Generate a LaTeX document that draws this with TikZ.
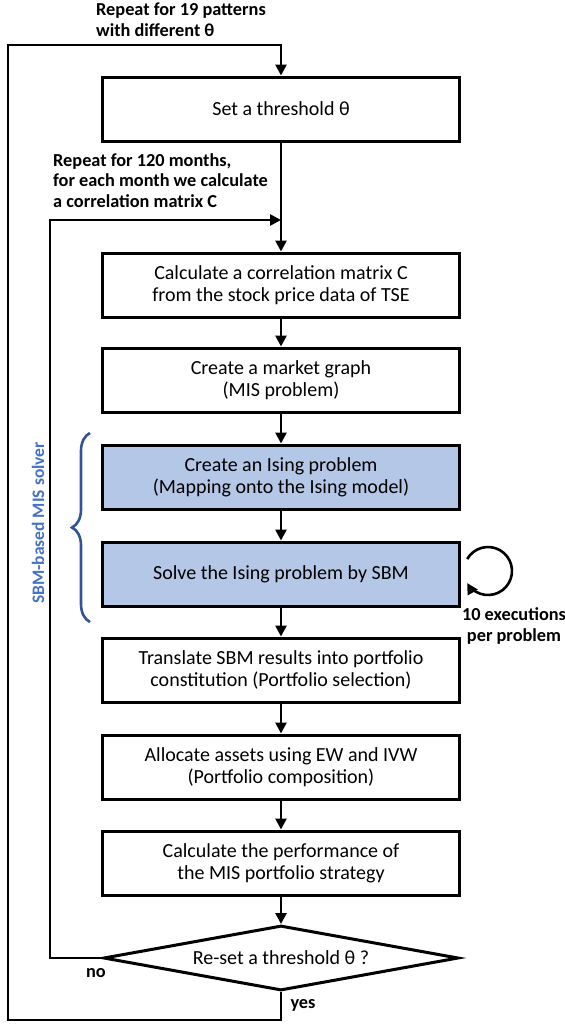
\documentclass[tikz,border=0pt]{standalone}
\usepackage{fontspec}
\setmainfont{Carlito}
\usepackage{tikz}
\usetikzlibrary{arrows.meta,shapes.geometric,decorations.pathreplacing}
\definecolor{boxblue}{HTML}{B4C7E7}
\definecolor{labelblue}{HTML}{4472C4}
\definecolor{braceblue}{HTML}{2F5597}

\begin{document}
\begin{tikzpicture}[x=1pt,y=-1pt,
		stepbox/.style={draw, line width=3pt, minimum width=357pt, minimum height=64pt, align=center, inner sep=2pt, font=\fontsize{20}{22}\selectfont},
		isingbox/.style={stepbox, fill=boxblue},
		note/.style={align=left, inner sep=0pt, font=\bfseries\fontsize{18.3}{20.8}\selectfont},
		flow/.style={-{Triangle[length=11pt,width=11pt]}, line width=2.6pt}]
		\useasboundingbox (0,0) rectangle (565,1026);

		% main flow
		\node[stepbox] (setth) at (281,109) {Set a threshold θ};
		\node[stepbox] (corr) at (281,285) {Calculate a correlation matrix C\\from the stock price data of TSE};
		\node[stepbox] (graph) at (281,380) {Create a market graph\\(MIS problem)};
		\node[isingbox] (ising) at (281,477) {Create an Ising problem\\(Mapping onto the Ising model)};
		\node[isingbox] (solve) at (281,574) {Solve the Ising problem by SBM};
		\node[stepbox] (select) at (281,670) {Translate SBM results into portfolio\\constitution (Portfolio selection)};
		\node[stepbox] (alloc) at (281,767) {Allocate assets using EW and IVW\\(Portfolio composition)};
		\node[stepbox] (perf) at (281,863) {Calculate the performance of\\the MIS portfolio strategy};
		\node[draw, diamond, aspect=5.5, minimum width=355pt, minimum height=65pt, inner sep=0pt, line width=3pt, font=\fontsize{20}{22}\selectfont] (reset) at (281,958) {Re-set a threshold θ ?};

		\foreach \a/\b in {setth/corr, corr/graph, graph/ising, ising/solve, solve/select, select/alloc, alloc/perf, perf/reset}
			\draw[flow] (\a) -- (\b);

		% loops
		\coordinate (join) at (setth.south |- 0,220);
		\draw[flow] (reset.west) -| (50,220) -- (join);
		\draw[flow] (reset.south) -- ++(0,28) -| (8,45) -| (setth.north);

		\node[note, anchor=north west] (outerlbl) at (96,3) {Repeat for 19 patterns\\with different θ};
		\node[note, anchor=north west] (innerlbl) at (53,153) {Repeat for 120 months,\\for each month we calculate\\a correlation matrix C};
		\node[note] (nolbl) at (96,973) {no};
		\node[note] (yeslbl) at (303,1005) {yes};

		% SBM part
		\draw[flow] (488,571) ++(210:24) arc[start angle=210, end angle=510, radius=24];
		\node[note, align=center] (execlbl) at (514,626) {10 executions\\per problem};
		\draw[decorate, decoration={brace, amplitude=18pt, aspect=0.5}, braceblue, line width=2.6pt] (90,622) -- (90,433);
		\node[note, rotate=90, text=labelblue, font=\bfseries\fontsize{17.5}{20}\selectfont] (solverlbl) at (38,523) {SBM-based MIS solver};
	\end{tikzpicture}
\end{document}
